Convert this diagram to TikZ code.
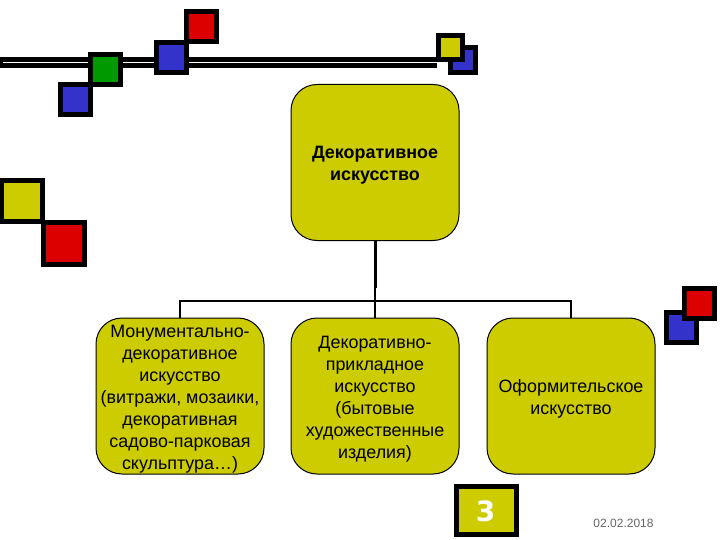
\documentclass[tikz,border=0pt]{standalone}
\usepackage{fontspec}
\setmainfont{Liberation Sans}
\newfontfamily\numfont{DejaVu Sans}
\definecolor{oliv}{HTML}{CCCC00}
\definecolor{sqred}{HTML}{DD0000}
\definecolor{sqblue}{HTML}{3333CC}
\definecolor{sqgreen}{HTML}{009900}
\definecolor{datecol}{HTML}{666666}
\tikzset{
  x=1pt,y=-1pt,
  orgbox/.style={draw=black,line width=1pt,fill=oliv,rounded corners=26pt,minimum width=168pt,minimum height=156pt,align=center,inner sep=0pt,font=\fontsize{17.9}{22}\selectfont},
  orgtext/.style={align=center,inner sep=0pt,font=\fontsize{17.9}{22}\selectfont},
  sq/.style={draw=black,line width=5pt,inner sep=0pt,minimum size=#1,outer sep=0pt},
  conn/.style={draw=black,line width=2pt},
  connthick/.style={draw=black,line width=3pt}
}
\begin{document}
\begin{tikzpicture}
\useasboundingbox (0,0) rectangle (720,540);
% double rule
\coordinate (ruleL) at (0,62.5);
\coordinate (ruleR) at (437,62.5);
\draw[black,line width=11pt] (ruleL) -- (ruleR);
\draw[white,line width=1.5pt] (3,62.5) -- (ruleR);
% squares
\node[sq=30pt,fill=sqred] (s1) at (201.5,27) {};
\node[sq=30pt,fill=sqblue] (s2) at (171.5,57.5) {};
\node[sq=30pt,fill=sqgreen] (s3) at (105.5,69.5) {};
\node[sq=30pt,fill=sqblue] (s4) at (75.5,99.5) {};
\node[sq=25pt,fill=sqblue] (s5) at (462.5,60) {};
\node[sq=24pt,fill=oliv] (s6) at (450.5,48) {};
\node[sq=41pt,fill=oliv] (s7) at (22,201) {};
\node[sq=41pt,fill=sqred] (s8) at (63.5,243.5) {};
\node[sq=30pt,fill=sqblue] (s9) at (681.5,327.5) {};
\node[sq=30pt,fill=sqred] (s10) at (699.5,303.5) {};
% boxes
\node[orgbox] (top) at (375,162.5) {};
\node[orgtext,font=\fontsize{17.9}{22}\selectfont\bfseries] (topt) at (375,165) {Декоративное\\искусство};
\node[orgbox] (a) at (180,396) {};
\node[orgtext] (at) at (180,399) {Монументально-\\декоративное\\искусство\\(витражи, мозаики,\\декоративная\\садово-парковая\\скульптура…)};
\node[orgbox] (b) at (375,396) {};
\node[orgtext] (bt) at (375,399) {Декоративно-\\прикладное\\искусство\\(бытовые\\художественные\\изделия)};
\node[orgbox] (c) at (571,396) {};
\node[orgtext] (ct) at (571,399) {Оформительское\\искусство};
% connectors
\coordinate (bus) at (375,301);
\draw[connthick] (top.south) -- (375,288);
\draw[conn] (375,288) -- (b.north);
\draw[conn] (a.north) |- (bus) -| (c.north);
% page number
\node[draw=black,line width=5pt,fill=oliv,minimum width=60pt,minimum height=48pt,inner sep=0pt,text=white,font=\fontsize{28}{28}\selectfont\numfont\bfseries] (pg) at (486.5,510.5) {};
\node[text=white,font=\fontsize{28}{28}\selectfont\numfont\bfseries,inner sep=0pt] (pgn) at (485.5,511.5) {3};
\node[text=datecol,font=\fontsize{12}{14}\selectfont,inner sep=0pt] (date) at (623.5,523.5) {02.02.2018};
\end{tikzpicture}
\end{document}
